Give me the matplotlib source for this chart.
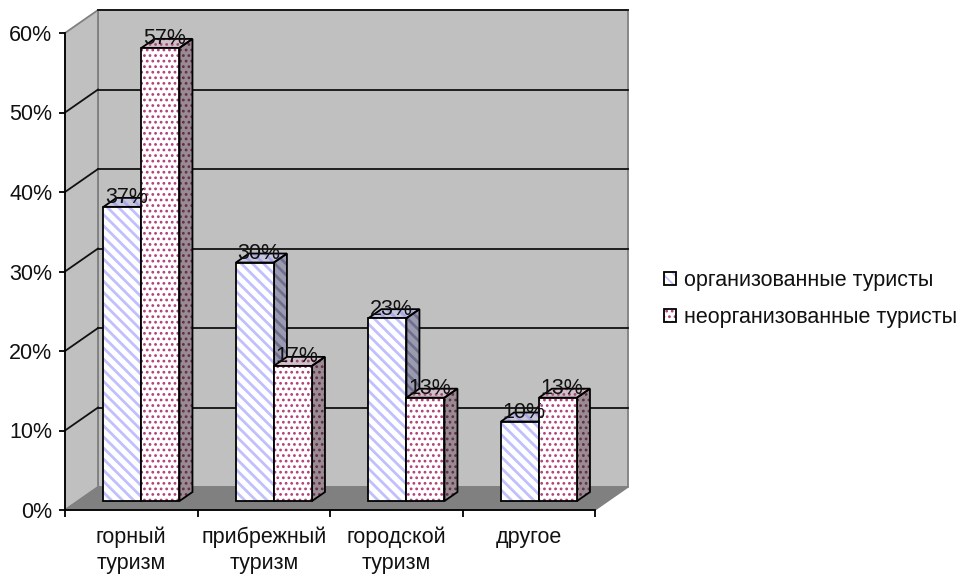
import matplotlib
matplotlib.use('Agg')
import matplotlib.pyplot as plt
from matplotlib.patches import Patch
from matplotlib.legend_handler import HandlerTuple

plt.rcParams['font.family'] = ['Liberation Sans', 'DejaVu Sans']

categories = ['горный\nтуризм', 'прибрежный\nтуризм', 'городской\nтуризм', 'другое']
organized = [37, 30, 23, 10]
unorganized = [57, 17, 13, 13]
series_names = ['организованные туристы', 'неорганизованные туристы']
y_ticks = [0, 10, 20, 30, 40, 50, 60]

# глубина псевдо-3D: сдвиг стенки и сдвиг столбцов, в единицах осей
WALL_DX, WALL_DY = 0.249, 2.89
BAR_DX, BAR_DY = 0.098, 1.13
BAR_W = 0.287
GROUP_SHIFT = 0.077
FS = 15.5
INK = '#111111'

W, H = 957, 575
fig = plt.figure(figsize=(W / 100, H / 100), dpi=100, facecolor='white')
ax = fig.add_axes([65 / W, 1 - 510 / H, 530 / W, 477 / H])
ax.patch.set_visible(False)
ax.set_xlim(0, len(categories))
ax.set_ylim(0, 60)
for s in ['top', 'right']:
    ax.spines[s].set_visible(False)
for s in ['left', 'bottom']:
    ax.spines[s].set_linewidth(1.3)
    ax.spines[s].set_zorder(2)

n = len(categories)
top = y_ticks[-1]
wall = dict(facecolor='#c0c0c0', edgecolor='#808080', linewidth=1.3, clip_on=False, zorder=1)
ax.fill([WALL_DX, n + WALL_DX, n + WALL_DX, WALL_DX],
        [WALL_DY, WALL_DY, top + WALL_DY, top + WALL_DY], **wall)
ax.fill([0, WALL_DX, WALL_DX, 0], [0, WALL_DY, top + WALL_DY, top], **wall)
ax.fill([0, n, n + WALL_DX, WALL_DX], [0, 0, WALL_DY, WALL_DY],
        facecolor='#808080', edgecolor='#808080', linewidth=1, clip_on=False, zorder=1.1)

for v in y_ticks[1:]:
    ax.plot([WALL_DX, n + WALL_DX], [v + WALL_DY, v + WALL_DY], color=INK, lw=1.3,
            clip_on=False, zorder=1.2)
    if v != top:
        ax.plot([0, WALL_DX], [v, v + WALL_DY], color=INK, lw=1.3, clip_on=False, zorder=1.2)


def draw_bar(x, val, style, z):
    plt.rcParams['hatch.linewidth'] = style['hatch_lw']
    b0 = BAR_DY
    b1 = BAR_DY + val
    xs = [x + BAR_W, x + BAR_W + BAR_DX, x + BAR_W + BAR_DX, x + BAR_W]
    ys = [b0, b0 + BAR_DY, b1 + BAR_DY, b1]
    ax.fill(xs, ys, facecolor=style['side'], edgecolor=style['hatch_side'], hatch=style['hatch'],
            linewidth=0, clip_on=False, zorder=z)
    ax.fill(xs, ys, fill=False, edgecolor='black', linewidth=1.3, clip_on=False, zorder=z + 0.01)
    xs = [x, x + BAR_W, x + BAR_W + BAR_DX, x + BAR_DX]
    ys = [b1, b1, b1 + BAR_DY, b1 + BAR_DY]
    ax.fill(xs, ys, facecolor=style['top'], edgecolor=style['hatch_top'], hatch=style['hatch'],
            linewidth=0, clip_on=False, zorder=z)
    ax.fill(xs, ys, fill=False, edgecolor='black', linewidth=1.3, clip_on=False, zorder=z + 0.01)
    ax.bar(x, val, BAR_W, bottom=b0, align='edge', facecolor='white',
           edgecolor=style['hatch_front'], hatch=style['hatch'], linewidth=0,
           clip_on=False, zorder=z + 0.02)
    ax.bar(x, val, BAR_W, bottom=b0, align='edge', fill=False, edgecolor='black',
           linewidth=1.3, clip_on=False, zorder=z + 0.03)


blue = dict(hatch='\\\\\\', hatch_lw=2.0, side='#9a9ab0', top='#c8c8dc', hatch_side='#70708c',
            hatch_top='#a8a8e8', hatch_front='#c0c0ff')
pink = dict(hatch='...', hatch_lw=1.2, side='#9a8a92', top='#d0c0c8', hatch_side='#5e3048',
            hatch_top='#a04878', hatch_front='#b04078')

for i in range(n):
    x_mid = i + 0.5 + GROUP_SHIFT
    z = 3 + i
    draw_bar(x_mid - BAR_W, organized[i], blue, z)
    draw_bar(x_mid, unorganized[i], pink, z + 0.1)
    for x, val in [(x_mid - BAR_W, organized[i]), (x_mid, unorganized[i])]:
        ax.annotate(f'{val}%', (x + BAR_W / 2, val + BAR_DY), xytext=(3, 2.5),
                    textcoords='offset points', ha='center', va='baseline',
                    fontsize=FS, color=INK, zorder=20, annotation_clip=False)

ax.set_yticks(y_ticks)
ax.set_yticklabels([f'{v}%' for v in y_ticks])
ax.tick_params(axis='y', length=4, width=1.3, pad=5, labelsize=FS, labelcolor=INK)
ax.set_xticks(range(n + 1))
ax.set_xticklabels([])
ax.tick_params(axis='x', which='major', length=5, width=1.3)
ax.set_xticks([i + 0.5 for i in range(n)], minor=True)
ax.set_xticklabels(categories, minor=True, linespacing=1.3)
ax.tick_params(axis='x', which='minor', length=0, pad=12, labelsize=FS, labelcolor=INK)

handles = []
for style in (blue, pink):
    plt.rcParams['hatch.linewidth'] = style['hatch_lw']
    handles.append((Patch(facecolor='white', edgecolor=style['hatch_front'], hatch=style['hatch'],
                          linewidth=0),
                    Patch(fill=False, edgecolor='black', linewidth=1.3)))
fig.legend(handles, series_names, loc='center left', bbox_to_anchor=(664 / W, 1 - 299 / H),
           frameon=False, fontsize=FS, handlelength=0.55, handleheight=0.55,
           handletextpad=0.4, labelspacing=0.72, borderpad=0, borderaxespad=0,
           labelcolor=INK, handler_map={tuple: HandlerTuple(ndivide=1, pad=0)})

fig.savefig('out.png', dpi=100)
